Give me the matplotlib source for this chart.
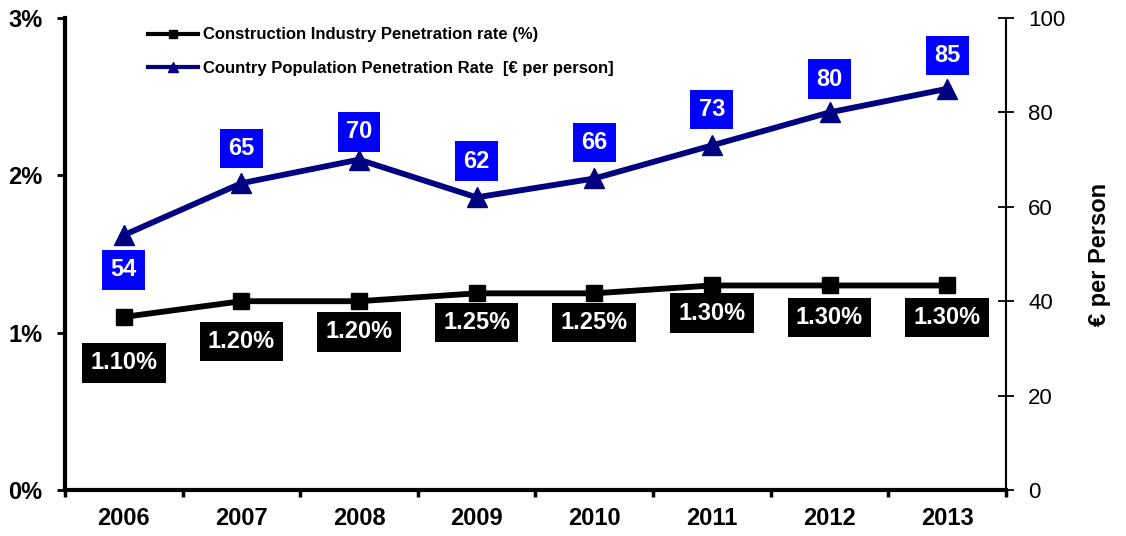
import matplotlib
matplotlib.use("Agg")
import matplotlib.pyplot as plt
import numpy as np

plt.rcParams["font.family"] = ["Liberation Sans", "DejaVu Sans"]

# Datos del grafico
years = ["2006", "2007", "2008", "2009", "2010", "2011", "2012", "2013"]
construction_rate = [1.10, 1.20, 1.20, 1.25, 1.25, 1.30, 1.30, 1.30]  # %
euro_per_person = [54, 65, 70, 62, 66, 73, 80, 85]

# Desplazamiento vertical de las etiquetas (puntos)
rate_label_dy = [-33, -29, -22, -21, -21, -20, -23, -23]
euro_label_dy = [-25, 25, 20, 26, 26, 26, 24, 24]

fig = plt.figure(figsize=(11.26, 5.36), dpi=100)
ax = fig.add_axes([0.0577, 0.0858, 0.8357, 0.8806])
ax2 = ax.twinx()

x = np.arange(len(years))

l1, = ax.plot(x, construction_rate, color="black", lw=4.2, marker="s", ms=11,
              label="Construction Industry Penetration rate (%)")
l2, = ax2.plot(x, euro_per_person, color="#000080", lw=4.2, marker="^", ms=15,
               label="Country Population Penetration Rate  [€ per person]")

ax.set_xlim(-0.5, len(years) - 0.5)
ax.set_ylim(0, 3)
ax2.set_ylim(0, 100)

ax.set_yticks([0, 1, 2, 3])
ax.set_yticklabels(["0%", "1%", "2%", "3%"], fontsize=17, fontweight="bold")
ax2.set_yticks(np.arange(0, 101, 20))
ax2.set_yticklabels([str(v) for v in range(0, 101, 20)], fontsize=16)
ax2.set_ylabel("€ per Person", fontsize=17, fontweight="bold", labelpad=16)

# ticks del eje x entre categorias
ax.set_xticks(np.arange(-0.5, len(years), 1))
ax.set_xticklabels([])
ax.set_xticks(x, minor=True)
ax.set_xticklabels(years, minor=True, fontsize=17, fontweight="bold")
ax.tick_params(axis="x", which="minor", length=0, pad=12)
ax.tick_params(axis="x", which="major", length=5, width=2.5, direction="out")
ax.tick_params(axis="y", length=6, width=2, direction="out", pad=10)
ax2.tick_params(axis="y", length=12, width=1.3, direction="inout", pad=10)

for side in ["top", "right"]:
    ax.spines[side].set_visible(False)
ax2.spines["top"].set_visible(False)
ax2.spines["left"].set_visible(False)
ax2.spines["bottom"].set_visible(False)
ax.spines["left"].set_linewidth(3)
ax.spines["bottom"].set_linewidth(3)
ax2.spines["right"].set_linewidth(1.5)

for i, v in enumerate(construction_rate):
    ax.annotate(f"{v:.2f}%", (x[i], v), xytext=(0, rate_label_dy[i]),
                textcoords="offset points", ha="center", va="center",
                color="white", fontsize=17, fontweight="bold",
                bbox=dict(boxstyle="square,pad=0.35", fc="black", ec="none"))

for i, v in enumerate(euro_per_person):
    ax2.annotate(str(v), (x[i], v), xytext=(0, euro_label_dy[i]),
                 textcoords="offset points", ha="center", va="center",
                 color="white", fontsize=17, fontweight="bold",
                 bbox=dict(boxstyle="square,pad=0.35", fc="#0000FF", ec="none"))

leg = ax2.legend(handles=[l1, l2], loc="upper left", bbox_to_anchor=(0.072, 1.012),
                 frameon=False, prop={"size": 12, "weight": "bold"},
                 handlelength=3.0, handletextpad=0.3, labelspacing=1.1,
                 markerscale=0.5)
for line in leg.get_lines():
    line.set_linewidth(3)

fig.savefig("out.png", dpi=100)
